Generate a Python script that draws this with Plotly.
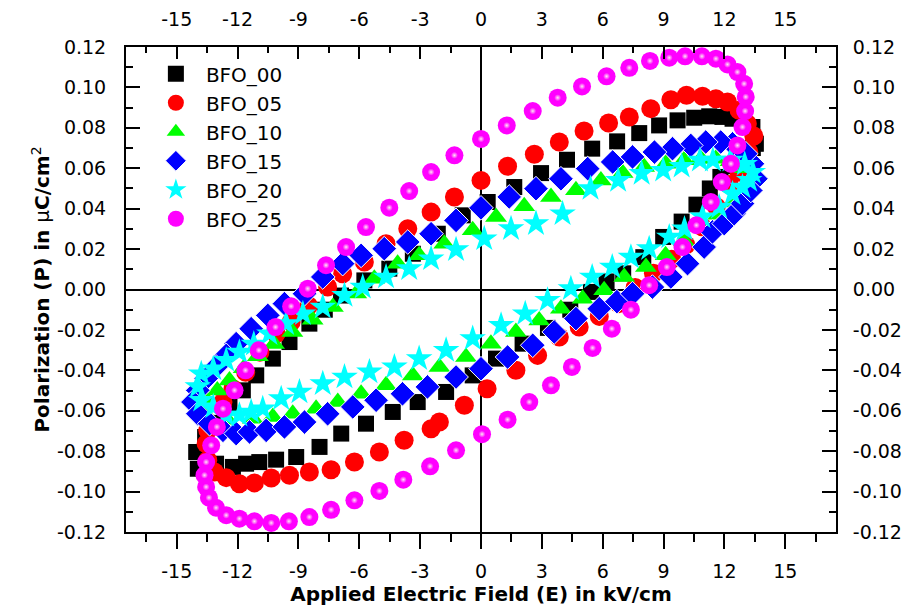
import plotly.graph_objects as go

# ---------------- data ----------------
X_TICKS = [-15, -12, -9, -6, -3, 0, 3, 6, 9, 12, 15]
X_TICK_LABELS = ["-15", "-12", "-9", "-6", "-3", "0", "3", "6", "9", "12", "15"]
Y_TICKS = [-0.12, -0.10, -0.08, -0.06, -0.04, -0.02, 0.00, 0.02, 0.04, 0.06, 0.08, 0.10, 0.12]
Y_TICK_LABELS = ["-0.12", "-0.10", "-0.08", "-0.06", "-0.04", "-0.02", "0.00",
                 "0.02", "0.04", "0.06", "0.08", "0.10", "0.12"]

E_00 = [13.55, 13.38, 12.40, 11.90, 11.25, 10.51, 9.69, 8.78, 7.80, 6.71,
        5.48, 4.24, 2.96, 1.64, 0.33, -0.90, -2.13, -3.36, -4.52, -5.75,
        -6.90, -7.70, -8.46, -9.44, -10.26, -11.08, -11.74, -12.40, -13.00, -13.60,
        -14.04, -13.96, -13.06, -12.23, -11.58, -10.93, -10.10, -9.11, -7.96, -6.89,
        -5.67, -4.35, -3.12, -1.72, -0.41, 0.74, 2.05, 3.30, 4.40, 5.42,
        6.19, 7.01, 8.00, 8.98, 9.89, 10.62, 11.28, 11.80, 12.40, 12.90, 13.40]
P_00 = [0.0721, 0.0804, 0.0845, 0.0854, 0.0857, 0.0850, 0.0837, 0.0812, 0.0774, 0.0733,
        0.0697, 0.0642, 0.0576, 0.0507, 0.0433, 0.0367, 0.0276, 0.0177, 0.0103, 0.0045,
        -0.0030, -0.0100, -0.0169, -0.0260, -0.0342, -0.0425, -0.0499, -0.0580, -0.0660, -0.0730,
        -0.0804, -0.0887, -0.0862, -0.0878, -0.0862, -0.0854, -0.0842, -0.0829, -0.0779, -0.0713,
        -0.0664, -0.0606, -0.0557, -0.0507, -0.0425, -0.0342, -0.0268, -0.0190, -0.0100, -0.0012,
        0.0040, 0.0080, 0.0160, 0.0260, 0.0336, 0.0420, 0.0500, 0.0557, 0.0610, 0.0660, 0.0700]

E_05 = [13.13, 12.72, 12.15, 11.58, 10.92, 10.13, 9.36, 8.37, 7.31, 6.29,
        5.08, 3.86, 2.63, 1.31, 0.00, -1.31, -2.46, -3.61, -4.68, -5.75,
        -6.82, -7.56, -8.50, -9.36, -10.10, -10.90, -11.60, -12.23, -12.72, -13.47,
        -13.55, -13.47, -13.14, -12.56, -11.91, -11.17, -10.34, -9.44, -8.46, -7.39,
        -6.24, -5.01, -3.79, -2.46, -2.05, -0.82, 0.30, 1.72, 2.79, 3.86,
        4.84, 5.83, 6.80, 7.60, 8.50, 9.40, 10.10, 10.90, 11.60, 12.23,
        12.72, 13.20, 13.45]
P_05 = [0.0820, 0.0887, 0.0928, 0.0944, 0.0956, 0.0961, 0.0939, 0.0895, 0.0854, 0.0824,
        0.0784, 0.0730, 0.0669, 0.0610, 0.0540, 0.0458, 0.0383, 0.0301, 0.0227, 0.0136,
        0.0078, 0.0012, -0.0080, -0.0161, -0.0219, -0.0310, -0.0410, -0.0491, -0.0557, -0.0697,
        -0.0763, -0.0845, -0.0903, -0.0931, -0.0961, -0.0957, -0.0933, -0.0919, -0.0903, -0.0892,
        -0.0854, -0.0804, -0.0746, -0.0689, -0.0656, -0.0573, -0.0491, -0.0400, -0.0326, -0.0235,
        -0.0186, -0.0133, -0.0070, 0.0010, 0.0080, 0.0150, 0.0220, 0.0310, 0.0410, 0.0520,
        0.0580, 0.0680, 0.0760]

E_10 = [13.40, 13.00, 12.30, 11.58, 10.84, 10.01, 9.11, 8.04, 6.98, 5.91,
        4.68, 3.45, 2.13, 0.74, -0.41, -1.81, -3.05, -4.11, -5.26, -6.15,
        -7.30, -8.30, -9.30, -10.20, -11.00, -11.70, -12.40, -13.00, -13.50, -13.80,
        -13.40, -12.50, -11.25, -10.26, -9.28, -8.13, -7.06, -5.91, -4.68, -3.36,
        -2.05, -0.74, 0.49, 1.72, 2.87, 3.94, 5.01, 6.07, 7.06, 8.13,
        9.10, 10.00, 10.90, 11.70, 12.40, 12.90]
P_10 = [0.0550, 0.0600, 0.0635, 0.0647, 0.0647, 0.0639, 0.0622, 0.0606, 0.0576, 0.0540,
        0.0491, 0.0458, 0.0412, 0.0359, 0.0293, 0.0227, 0.0169, 0.0128, 0.0053, -0.0020,
        -0.0087, -0.0150, -0.0210, -0.0270, -0.0330, -0.0390, -0.0450, -0.0500, -0.0550, -0.0600,
        -0.0640, -0.0645, -0.0639, -0.0631, -0.0615, -0.0590, -0.0557, -0.0516, -0.0474, -0.0425,
        -0.0383, -0.0334, -0.0268, -0.0210, -0.0153, -0.0095, -0.0046, -0.0004, 0.0062, 0.0111,
        0.0170, 0.0240, 0.0310, 0.0370, 0.0430, 0.0480]

E_15 = [13.55, 13.38, 13.05, 12.40, 11.82, 11.08, 10.34, 9.44, 8.55, 7.47,
        6.49, 5.26, 3.94, 2.71, 1.39, 0.00, -1.23, -2.46, -3.61, -4.77,
        -5.91, -6.82, -7.80, -8.70, -9.69, -10.51, -11.33, -12.07, -12.56, -13.06,
        -13.55, -13.96, -14.20, -13.96, -13.38, -12.72, -12.07, -11.41, -10.59, -9.69,
        -8.70, -7.56, -6.32, -5.17, -3.87, -2.64, -1.23, 0.00, 1.31, 2.55,
        3.61, 4.68, 5.83, 6.70, 7.47, 8.45, 9.36, 10.18, 11.00, 11.41,
        11.99, 12.48, 12.89, 13.30]
P_15 = [0.0548, 0.0622, 0.0672, 0.0721, 0.0730, 0.0730, 0.0713, 0.0697, 0.0680, 0.0656,
        0.0631, 0.0598, 0.0548, 0.0499, 0.0458, 0.0404, 0.0342, 0.0276, 0.0235, 0.0202,
        0.0169, 0.0128, 0.0062, -0.0021, -0.0070, -0.0128, -0.0194, -0.0268, -0.0326, -0.0383,
        -0.0441, -0.0499, -0.0557, -0.0615, -0.0664, -0.0697, -0.0713, -0.0705, -0.0697, -0.0680,
        -0.0656, -0.0615, -0.0581, -0.0548, -0.0516, -0.0482, -0.0433, -0.0392, -0.0334, -0.0276,
        -0.0210, -0.0144, -0.0095, -0.0060, -0.0021, 0.0012, 0.0062, 0.0128, 0.0210, 0.0285,
        0.0326, 0.0375, 0.0425, 0.0490]

E_20 = [13.40, 13.00, 12.30, 11.43, 10.79, 9.89, 8.98, 7.92, 6.76, 5.40,
        4.02, 2.71, 1.48, 0.16, -1.23, -2.46, -3.54, -4.68, -5.83, -6.73,
        -7.80, -8.78, -9.61, -10.43, -11.20, -11.91, -12.56, -13.20, -13.79, -13.96,
        -13.79, -13.20, -12.56, -11.91, -11.33, -10.76, -9.85, -8.95, -7.80, -6.73,
        -5.50, -4.27, -3.05, -1.72, -0.41, 0.99, 2.18, 3.28, 4.43, 5.48,
        6.47, 7.39, 8.29, 9.28, 10.03, 10.92, 11.74, 12.40, 12.89, 13.22]
P_20 = [0.0580, 0.0620, 0.0640, 0.0640, 0.0640, 0.0610, 0.0590, 0.0575, 0.0540, 0.0500,
        0.0375, 0.0326, 0.0301, 0.0251, 0.0197, 0.0152, 0.0103, 0.0062, 0.0012, -0.0029,
        -0.0087, -0.0120, -0.0169, -0.0219, -0.0270, -0.0310, -0.0350, -0.0392, -0.0417, -0.0480,
        -0.0548, -0.0581, -0.0622, -0.0622, -0.0606, -0.0590, -0.0540, -0.0507, -0.0466, -0.0433,
        -0.0408, -0.0383, -0.0342, -0.0301, -0.0243, -0.0177, -0.0120, -0.0053, 0.0004, 0.0062,
        0.0111, 0.0160, 0.0202, 0.0260, 0.0300, 0.0359, 0.0408, 0.0474, 0.0507, 0.0540]

E_25 = [0.00, 1.27, 2.55, 3.78, 4.98, 6.19, 7.31, 8.33, 9.28, 10.06,
        10.89, 11.58, 12.15, 12.64, 12.97, 13.05, 13.02, 12.89, 12.64, 12.32,
        11.87, 11.33, 10.62, 9.93, 9.16, 8.29, 7.39, 6.45, 5.50, 4.48,
        3.45, 2.38, 1.31, 0.05, -1.23, -2.51, -3.83, -5.01, -6.24, -7.39,
        -8.46, -9.47, -10.34, -11.17, -11.91, -12.56, -13.06, -13.41, -13.55, -13.63,
        -13.55, -13.30, -13.02, -12.72, -12.15, -11.61, -10.95, -10.13, -9.36, -8.54,
        -7.64, -6.65, -5.67, -4.52, -3.54, -2.46, -1.31]
P_25 = [0.0745, 0.0812, 0.0883, 0.0949, 0.1005, 0.1055, 0.1097, 0.1131, 0.1147, 0.1154,
        0.1154, 0.1142, 0.1114, 0.1076, 0.1018, 0.0953, 0.0883, 0.0804, 0.0713, 0.0622,
        0.0532, 0.0433, 0.0318, 0.0210, 0.0111, 0.0021, -0.0100, -0.0194, -0.0289, -0.0383,
        -0.0474, -0.0557, -0.0644, -0.0716, -0.0796, -0.0875, -0.0941, -0.0997, -0.1043, -0.1090,
        -0.1126, -0.1147, -0.1155, -0.1147, -0.1134, -0.1117, -0.1080, -0.1030, -0.0977, -0.0919,
        -0.0854, -0.0771, -0.0680, -0.0590, -0.0499, -0.0400, -0.0301, -0.0186, -0.0083, 0.0004,
        0.0120, 0.0210, 0.0309, 0.0405, 0.0487, 0.0581, 0.0664]

# ---------------- figure ----------------
FONT = "DejaVu Sans"
fig = go.Figure()

series = [
    ("BFO_00", E_00, P_00, dict(symbol="square", size=16, color="#000000")),
    ("BFO_05", E_05, P_05, dict(symbol="circle", size=19, color="#ff0000")),
    ("BFO_10", E_10, P_10, dict(symbol="triangle-up", size=19, color="#00ff00")),
    ("BFO_15", E_15, P_15, dict(symbol="diamond", size=19, color="#0000ff",
                                line=dict(color="white", width=1))),
    ("BFO_20", E_20, P_20, dict(symbol="star", size=20, color="#00ffff")),
    ("BFO_25", E_25, P_25, dict(symbol="circle", size=18, color="#ff00ff")),
]
for name, ex, py, mk in series:
    mk.setdefault("line", dict(width=0))
    fig.add_trace(go.Scatter(x=ex, y=py, mode="markers", name=name, marker=mk))

# soft sphere highlight for BFO_25
fig.add_trace(go.Scatter(x=E_25, y=P_25, mode="markers", showlegend=False, hoverinfo="skip",
                         marker=dict(symbol="circle", size=7, color="#ff00ff",
                                     gradient=dict(type="radial", color="#fde8f2"),
                                     line=dict(width=0))))
# dummy trace to activate the top / right axes
fig.add_trace(go.Scatter(x=[None], y=[None], xaxis="x2", yaxis="y2", showlegend=False,
                         hoverinfo="skip"))

tickfont = dict(family=FONT, size=19, color="black")
x_minor = [i * 1.5 for i in range(-11, 12)]
y_minor = [i / 100 for i in range(-12, 13)]

axis_common = dict(showline=True, linecolor="black", linewidth=2, showgrid=False,
                   tickcolor="black", tickwidth=2, tickfont=tickfont, mirror=False,
                   automargin=False)

fig.update_layout(
    width=910, height=611, autosize=False,
    margin=dict(l=126, r=74, t=47, b=79),
    paper_bgcolor="white", plot_bgcolor="white",
    font=dict(family=FONT, color="black"),
    xaxis=dict(range=[-17.5, 17.5], tickmode="array", tickvals=X_TICKS, ticktext=X_TICK_LABELS,
               ticks="outside", ticklen=15, ticklabelstandoff=6,
               zeroline=True, zerolinecolor="black", zerolinewidth=2,
               minor=dict(tickmode="array", tickvals=x_minor, ticks="outside", ticklen=8,
                          tickcolor="black", tickwidth=2),
               title=dict(text="<b>Applied Electric Field (E) in kV/cm</b>",
                          font=dict(family=FONT, size=20), standoff=5),
               **axis_common),
    xaxis2=dict(range=[-17.5, 17.5], overlaying="x", side="top", anchor="y",
                tickmode="array", tickvals=X_TICKS, ticktext=X_TICK_LABELS,
                ticks="inside", ticklen=12, ticklabelstandoff=11, zeroline=False,
                minor=dict(tickmode="array", tickvals=x_minor, ticks="inside", ticklen=6,
                           tickcolor="black", tickwidth=2),
                **axis_common),
    yaxis=dict(range=[-0.12, 0.12], tickmode="array", tickvals=Y_TICKS, ticktext=Y_TICK_LABELS,
               ticks="inside", ticklen=14, ticklabelstandoff=14,
               zeroline=True, zerolinecolor="black", zerolinewidth=2,
               minor=dict(tickmode="array", tickvals=y_minor, ticks="inside", ticklen=7,
                          tickcolor="black", tickwidth=2),
               title=dict(text="<b>Polarization (P) in </b>μ<b>C/cm</b><sup>2</sup>",
                          font=dict(family=FONT, size=20), standoff=2),
               **axis_common),
    yaxis2=dict(range=[-0.12, 0.12], overlaying="y", side="right", anchor="x",
                tickmode="array", tickvals=Y_TICKS, ticktext=Y_TICK_LABELS,
                ticks="inside", ticklen=14, ticklabelstandoff=11, zeroline=False,
                minor=dict(tickmode="array", tickvals=y_minor, ticks="inside", ticklen=7,
                           tickcolor="black", tickwidth=2),
                **axis_common),
    legend=dict(x=0.028, y=0.985, xanchor="left", yanchor="top",
                bgcolor="rgba(0,0,0,0)", borderwidth=0, itemwidth=50,
                font=dict(family=FONT, size=20, color="black")),
    showlegend=True,
)

# remove the browser's default 8px page margin so the figure sits at (0, 0)
fig.write_html("out.html", config={"displayModeBar": False},
               post_script="document.body.style.margin='0';document.body.style.overflow='hidden';")
